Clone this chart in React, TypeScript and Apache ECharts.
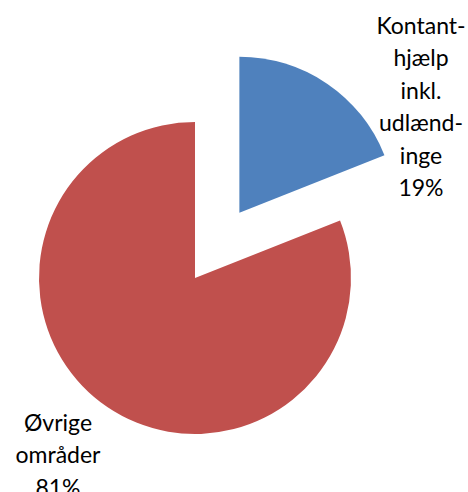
import React, { useEffect, useRef } from "react";
import * as echarts from "echarts";

const categories = ["Kontant-\nhjælp\ninkl.\nudlænd-\ninge", "Øvrige\nområder"];
const values = [19, 81];
const colors = ["#4F81BD", "#C0504D"];
const explodedIndex = 0;

export default function App() {
  const ref = useRef<HTMLDivElement>(null);
  useEffect(() => {
    if (!ref.current) return;
    const chart = echarts.init(ref.current, null, { renderer: "svg" });
    const center = [195, 278];
    const radius = 156;
    const explodeDist = 79;
    const total = values.reduce((a, b) => a + b, 0);
    let before = 0;
    for (let i = 0; i < explodedIndex; i++) before += values[i];
    const midFrac = (before + values[explodedIndex] / 2) / total;
    const ang = midFrac * 2 * Math.PI; // clockwise from 12 o'clock
    const exCenter = [
      center[0] + explodeDist * Math.sin(ang),
      center[1] - explodeDist * Math.cos(ang),
    ];
    const labelPos = [
      { x: 421, y: 106 },
      { x: 58, y: 454 },
    ];
    const makeSeries = (visibleIdx: number, c: number[]) => ({
      type: "pie",
      center: c,
      radius: [0, radius],
      startAngle: 90,
      clockwise: true,
      percentPrecision: 0,
      avoidLabelOverlap: false,
      selectedMode: false,
      emphasis: { disabled: true },
      labelLine: { show: false },
      label: {
        show: true,
        position: "outside",
        formatter: "{b}\n{d}%",
        fontFamily: "Lato",
        fontSize: 23,
        lineHeight: 32.5,
        color: "#000000",
        align: "center",
      },
      labelLayout: (params: any) => ({
        x: labelPos[params.dataIndex].x,
        y: labelPos[params.dataIndex].y,
        align: "center",
        verticalAlign: "middle",
      }),
      data: categories.map((name, i) => ({
        name,
        value: values[i],
        itemStyle: { color: i === visibleIdx ? colors[i] : "rgba(0,0,0,0)" },
        label: { show: i === visibleIdx },
      })),
    });
    const series = categories.map((_, i) =>
      makeSeries(i, i === explodedIndex ? exCenter : center)
    );
    chart.setOption({
      animation: false,
      backgroundColor: "#ffffff",
      series,
    });
    return () => chart.dispose();
  }, []);
  return (
    <div
      ref={ref}
      style={{ position: "absolute", left: 0, top: 0, width: 468, height: 492 }}
    />
  );
}
